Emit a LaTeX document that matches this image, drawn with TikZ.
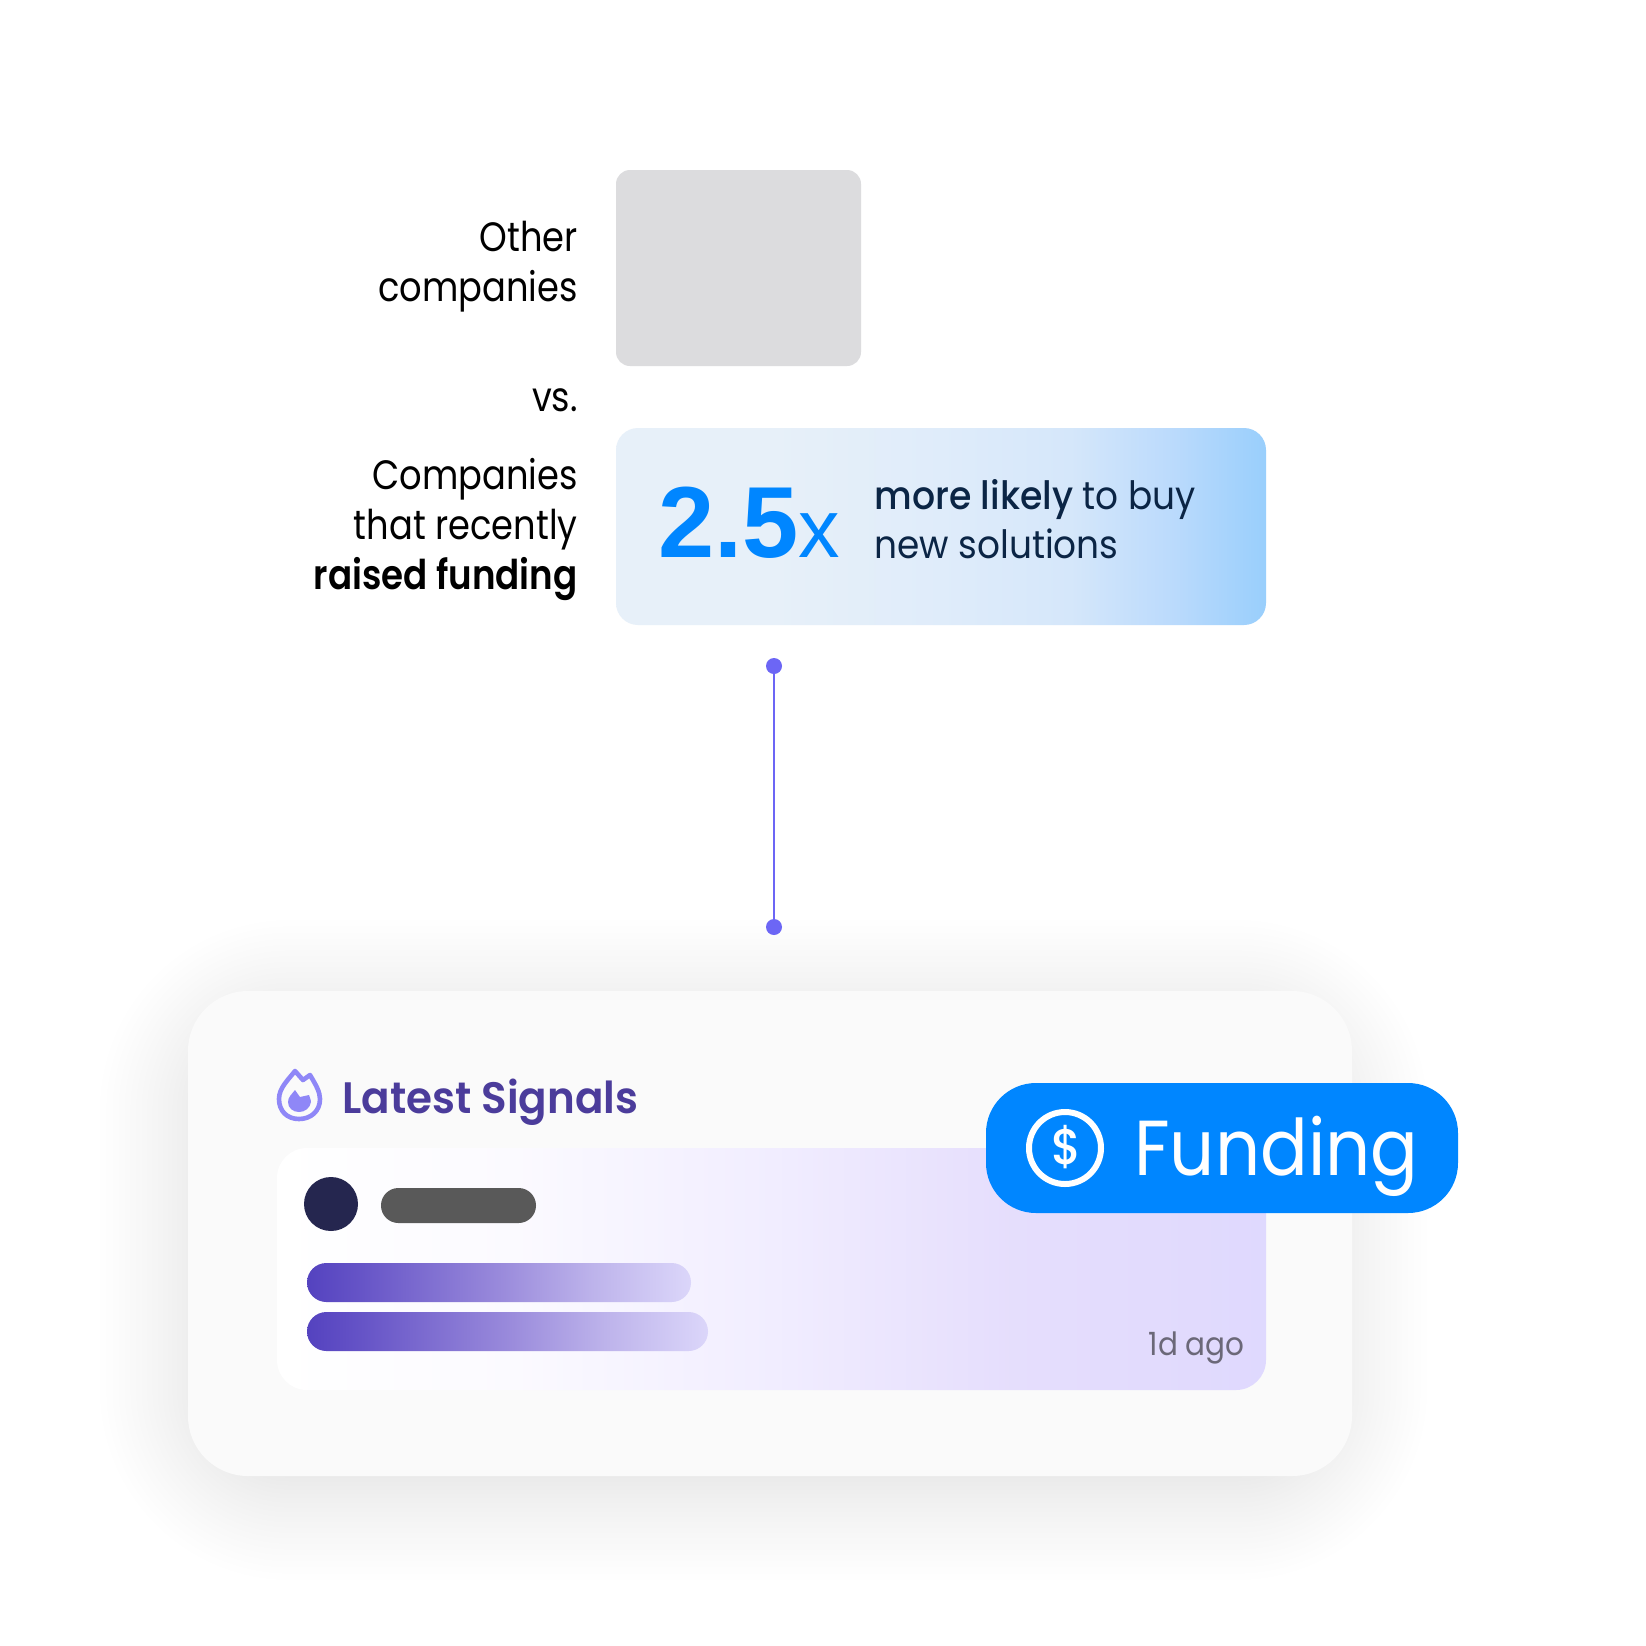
\documentclass[tikz,border=0pt]{standalone}
\usepackage{fontspec}
\setmainfont[FakeStretch=0.92]{Poppins}
\newfontfamily\labelfont[FakeStretch=0.86]{Poppins}
\newfontfamily\labelbold[FakeStretch=0.87]{Poppins SemiBold}
\newfontfamily\popmed[FakeStretch=0.93]{Poppins Medium}
\newfontfamily\titlefont[FakeStretch=0.955]{Poppins SemiBold}
\newfontfamily\badgefont[FakeStretch=0.905]{Poppins}
\newfontfamily\heros{Liberation Sans}
\definecolor{boxgrey}{HTML}{DCDCDE}
\definecolor{numblue}{HTML}{0086FF}
\definecolor{navy}{HTML}{0B2545}
\definecolor{dotc}{HTML}{6C66F5}
\definecolor{cardc}{HTML}{FAFAFA}
\definecolor{titlec}{HTML}{4B3C9B}
\definecolor{flamec}{HTML}{8F87F7}
\definecolor{darkc}{HTML}{25264F}
\definecolor{pillc}{HTML}{595959}
\definecolor{agoc}{HTML}{6B6878}
\pgfdeclarehorizontalshading{blueshade}{100bp}{rgb(0bp)=(0.906,0.941,0.976); rgb(37bp)=(0.906,0.941,0.976); rgb(50bp)=(0.875,0.925,0.98); rgb(60bp)=(0.835,0.905,0.98); rgb(68bp)=(0.73,0.855,0.99); rgb(75bp)=(0.6,0.81,0.99); rgb(100bp)=(0.6,0.81,0.99)}
\pgfdeclarehorizontalshading{purpshade}{100bp}{rgb(0bp)=(1,1,1); rgb(25bp)=(1,1,1); rgb(37bp)=(0.985,0.98,1); rgb(50bp)=(0.945,0.93,1); rgb(62bp)=(0.9,0.87,0.99); rgb(75bp)=(0.875,0.85,0.995); rgb(100bp)=(0.875,0.85,0.995)}
\pgfdeclarehorizontalshading{barshade}{100bp}{rgb(0bp)=(0.33,0.26,0.75); rgb(25bp)=(0.33,0.26,0.75); rgb(32bp)=(0.40,0.33,0.78); rgb(50bp)=(0.60,0.54,0.86); rgb(62bp)=(0.74,0.70,0.92); rgb(75bp)=(0.86,0.84,0.98); rgb(100bp)=(0.86,0.84,0.98)}
\tikzset{
  x=0.5pt,y=-0.5pt,
  lbl/.style={anchor=base east,inner sep=0pt,font=\labelfont\fontsize{20.5}{20.5}\selectfont,text=black},
  txt/.style={anchor=base west,inner sep=0pt},
  dotn/.style={circle,fill=dotc,inner sep=0pt,minimum size=8pt},
  pill/.style={rounded corners=9.7pt,shading=barshade},
}
\begin{document}
\begin{tikzpicture}
\useasboundingbox (0,0) rectangle (1646,1646);
\fill[white] (0,0) rectangle (1646,1646);
% soft shadow of the card
\foreach \i [evaluate=\i as \e using {160*(\i/50)*(\i/50)}] in {1,...,50}{
  \fill[black,opacity=0.005,rounded corners={(15+\e*0.5)*1pt}]
    ({260-\e},{1080-\e}) rectangle ({1267+\e},{1420+\e});
}
% grey box
\fill[boxgrey,rounded corners=7pt] (616,170) rectangle (861,366);
% blue box
\path[shading=blueshade,rounded corners=11pt] (616,428) rectangle (1266,625);
% labels
\node[lbl] (other) at (578,251) {Other};
\node[lbl] (companies) at (578,301) {companies};
\node[lbl] (vs) at (578,411) {vs.};
\node[lbl] (comp2) at (578,489) {Companies};
\node[lbl] (recent) at (578,539) {that recently};
\node[lbl] (raised) at (578,589) {\labelbold raised funding};
% stat
\node[txt,text=numblue,font=\heros\bfseries\fontsize{50.5}{50.5}\selectfont] (num) at (658,557) {2.5};
\node[txt,text=numblue,font=\heros\fontsize{41.5}{41.5}\selectfont] (xmark) at (798,557) {x};
\node[txt,text=navy,font=\fontsize{19.5}{19.5}\selectfont] (likely) at (874,509) {{\popmed more likely} to buy};
\node[txt,text=navy,font=\fontsize{19.5}{19.5}\selectfont] (newsol) at (874,558) {new solutions};
% connector
\node[dotn] (d1) at (774,666) {};
\node[dotn] (d2) at (774,927) {};
\draw[dotc,line width=1pt] (d1) -- (d2);
% card
\fill[cardc,rounded corners=30pt] (188,991) rectangle (1352,1476);
% panel
\path[shading=purpshade,rounded corners=15pt] (277,1148) rectangle (1266,1390);
% flame icon
\draw[flamec,line width=2.3pt,line join=round] (295,1071) -- (303,1080) -- (310,1075)
  .. controls (316,1085) and (320,1092) .. (320,1099)
  .. controls (320,1111) and (311,1119) .. (299,1119)
  .. controls (287,1119) and (279,1111) .. (279,1099)
  .. controls (279,1088) and (288,1080) .. (295,1071) -- cycle;
\fill[flamec] (295,1090) -- (300,1097) -- (309,1095)
  .. controls (311,1100) and (311,1102) .. (311,1102)
  .. controls (310,1108) and (305,1112) .. (299,1112)
  .. controls (293,1112) and (288,1108) .. (288,1102)
  .. controls (288,1097) and (292,1094) .. (295,1090) -- cycle;
\node[txt,text=titlec,font=\titlefont\fontsize{22}{22}\selectfont] (title) at (342,1113) {Latest Signals};
% contents of panel
\fill[darkc] (331,1204) circle (13.5pt);
\fill[pillc,rounded corners=8.7pt] (381,1188) rectangle (536,1223);
\path[pill] (307,1263) rectangle (691,1302);
\path[pill] (307,1312) rectangle (708,1351);
\node[anchor=base east,inner sep=0pt,text=agoc,font=\fontsize{16}{16}\selectfont] (ago) at (1245,1355) {1d ago};
% badge
\fill[numblue,rounded corners=25pt] (986,1083) rectangle (1458,1213);
\draw[white,line width=3pt] (1065,1148) circle (18pt);
\node[text=white,inner sep=0pt,font=\popmed\fontsize{25}{25}\selectfont] (dollar) at (1067,1147) {\$};
\node[txt,text=white,font=\badgefont\fontsize{39}{39}\selectfont] (funding) at (1134,1175) {Funding};
\end{tikzpicture}
\end{document}
